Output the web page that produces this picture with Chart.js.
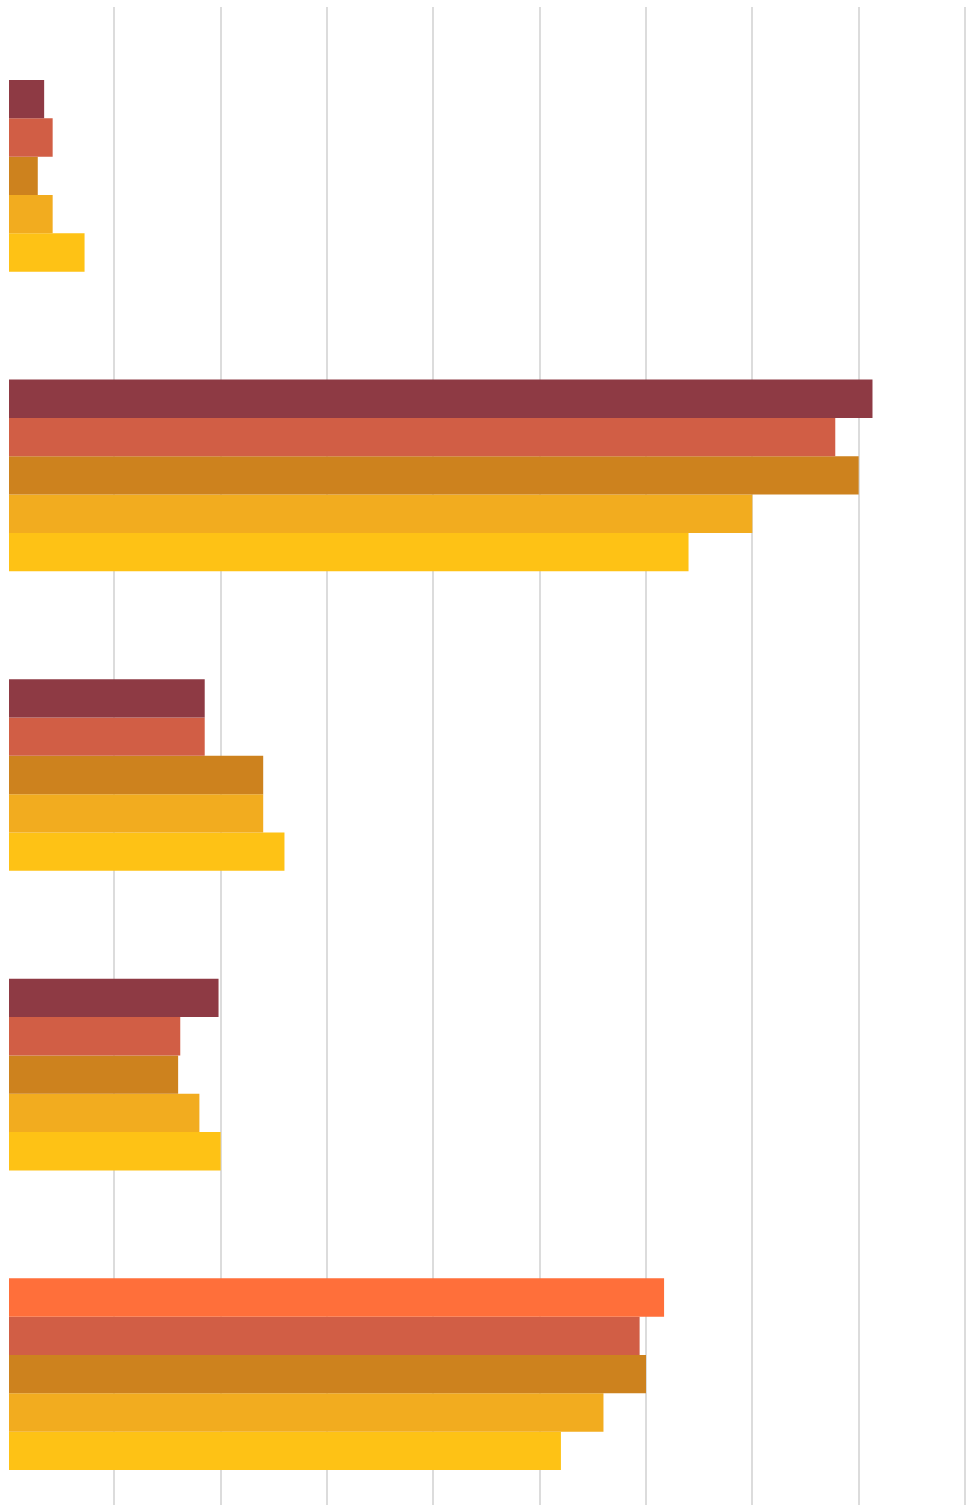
<!DOCTYPE html>
<html>
<head>
<meta charset="utf-8">
<script src="https://cdn.jsdelivr.net/npm/chart.js@4/dist/chart.umd.min.js"></script>
<style>
  html, body { margin: 0; padding: 0; background: #fff; overflow: hidden; }
  #wrap { width: 966px; height: 1530px; position: relative; }
</style>
</head>
<body>
<div id="wrap"><canvas id="c"></canvas></div>
<script>
const categories = ["A", "B", "C", "D", "E"];
const series1 = [3.4, 81.3, 18.5, 19.8, 61.7];
const series2 = [4.2, 77.8, 18.5, 16.2, 59.4];
const series3 = [2.8, 80.0, 24.0, 16.0, 60.0];
const series4 = [4.2, 70.0, 24.0, 18.0, 56.0];
const series5 = [7.2, 64.0, 26.0, 20.0, 52.0];
const xMax = 90;
const xStep = 10;

const colors = ["#8E3A44", "#D15E45", "#CD821E", "#F2AC1F", "#FEC215"];
const highlight = "#FF6F3A";

const allSeries = [series1, series2, series3, series4, series5];
const datasets = allSeries.map((vals, i) => ({
  label: "S" + (i + 1),
  data: vals,
  backgroundColor: i === 0
    ? vals.map((v, j) => j === vals.length - 1 ? highlight : colors[0])
    : colors[i],
  borderWidth: 0,
  categoryPercentage: 0.64,
  barPercentage: 1.0
}));

new Chart(document.getElementById("c"), {
  type: "bar",
  data: { labels: categories, datasets },
  options: {
    indexAxis: "y",
    responsive: true,
    maintainAspectRatio: false,
    animation: false,
    layout: { padding: { left: 8, right: 1, top: 7, bottom: 6 } },
    plugins: { legend: { display: false }, tooltip: { enabled: false } },
    scales: {
      x: {
        position: "top",
        min: 0,
        max: xMax,
        ticks: { display: false, stepSize: xStep },
        border: { display: false },
        grid: {
          color: (ctx) => ctx.index === 0 ? "rgba(0,0,0,0)" : "#dcdcdc",
          lineWidth: 2,
          drawTicks: true,
          tickLength: 19
        }
      },
      y: {
        display: false,
        grid: { display: false }
      }
    }
  }
});
</script>
</body>
</html>
